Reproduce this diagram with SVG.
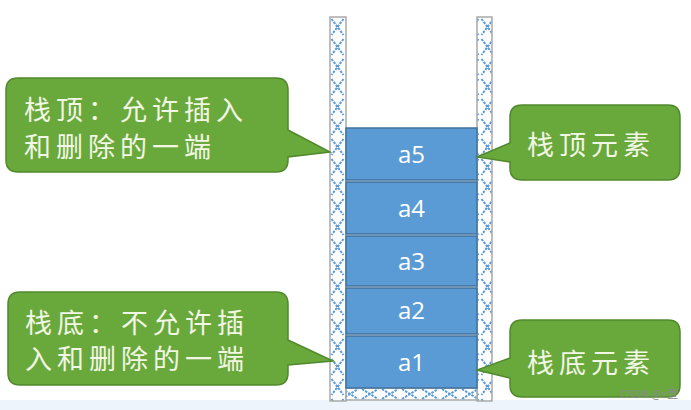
<svg xmlns="http://www.w3.org/2000/svg" width="691" height="410" viewBox="0 0 691 410">
<style>
.call{fill:#69a93c;stroke:#50892c;stroke-width:1.5}
.ct{font-family:"Noto Sans CJK SC","Noto Sans",sans-serif;font-size:27px;fill:#f2f6e4;letter-spacing:5px}
.blk{fill:#5b9bd5;stroke:#41719c;stroke-width:1.5}
.bt{font-family:"Open Sans","Liberation Sans",sans-serif;font-size:24px;fill:#ffffff;text-anchor:middle}
.wall{fill:url(#hatch);stroke:#a9a9a9;stroke-width:1.5}
</style>
<defs>
<pattern id="hatch" patternUnits="userSpaceOnUse" x="0" y="17" width="15" height="20">
<rect width="15" height="20" fill="#ffffff"/>
<path d="M1.5 2 L13.5 18 M13.5 2 L1.5 18" stroke="#5b9bd5" stroke-width="2" stroke-dasharray="2.5 1.2" fill="none"/>
</pattern>
<pattern id="hatchH" patternUnits="userSpaceOnUse" x="0" y="388" width="20" height="12">
<rect width="20" height="12" fill="#ffffff"/>
<path d="M2 1 L18 11 M2 11 L18 1" stroke="#5b9bd5" stroke-width="2" stroke-dasharray="2.5 1.2" fill="none"/>
</pattern>
</defs>
<rect x="0" y="400" width="691" height="10" fill="#eef4fb"/>
<g id="container">
<rect class="wall" x="330" y="17" width="16" height="384"/>
<rect class="wall" x="477" y="17" width="15" height="384"/>
<rect x="346" y="388" width="131" height="12" fill="url(#hatchH)" stroke="#a9a9a9" stroke-width="1.5"/>
</g>
<g id="a5"><rect class="blk" x="346" y="128" width="131" height="52"/><text class="bt" x="411.5" y="163">a5</text></g>
<g id="a4"><rect class="blk" x="346" y="182" width="131" height="52"/><text class="bt" x="411.5" y="217">a4</text></g>
<g id="a3"><rect class="blk" x="346" y="236" width="131" height="50"/><text class="bt" x="411.5" y="270">a3</text></g>
<g id="a2"><rect class="blk" x="346" y="288" width="131" height="46"/><text class="bt" x="411.5" y="319">a2</text></g>
<g id="a1"><rect class="blk" x="346" y="336" width="131" height="52"/><text class="bt" x="411.5" y="371">a1</text></g>
<g id="callout-top-left">
<path class="call" d="M18 78 H276 Q288 78 288 90 V130 L330 152 L288 157 V160 Q288 172 276 172 H18 Q6 172 6 160 V90 Q6 78 18 78 Z"/>
<text class="ct" x="24" y="120">栈顶：允许插入</text>
<text class="ct" x="24" y="157">和删除的一端</text>
</g>
<g id="callout-bottom-left">
<path class="call" d="M20 292 H276 Q288 292 288 304 V340 L333 361 L288 365 V373 Q288 385 276 385 H20 Q8 385 8 373 V304 Q8 292 20 292 Z"/>
<text class="ct" x="25" y="333">栈底：不允许插</text>
<text class="ct" x="25" y="369">入和删除的一端</text>
</g>
<g id="callout-top-right">
<path class="call" d="M522 105 H668 Q680 105 680 117 V168 Q680 180 668 180 H522 Q510 180 510 168 V162 L477 157 L510 143 V117 Q510 105 522 105 Z"/>
<text class="ct" x="527" y="155">栈顶元素</text>
</g>
<g id="callout-bottom-right">
<path class="call" d="M522 320 H668 Q680 320 680 332 V385 Q680 397 668 397 H522 Q510 397 510 385 V378 L477 370 L510 358 V332 Q510 320 522 320 Z"/>
<text class="ct" x="527" y="373">栈底元素</text>
</g>
<text x="620" y="398" font-family="Noto Sans CJK SC,Noto Sans,sans-serif" font-size="11" fill="#8a8a8a">CSDN @c萱</text>
</svg>
